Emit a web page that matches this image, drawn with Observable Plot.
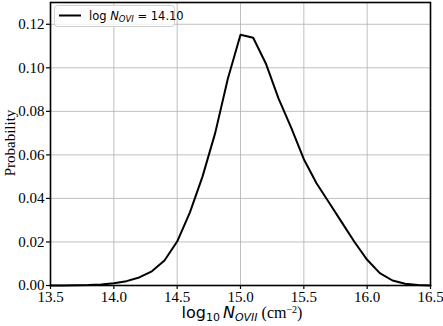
<!DOCTYPE html>
<html>
<head>
<meta charset="utf-8">
<script src="https://cdn.jsdelivr.net/npm/d3@7"></script>
<script src="https://cdn.jsdelivr.net/npm/@observablehq/plot@0.6"></script>
<style>
  html, body { margin: 0; padding: 0; background: #fff; }
  #chart svg { display: block; }
</style>
</head>
<body>
<div id="chart"></div>
<script>
const logN = [13.5,13.6,13.7,13.8,13.9,14.0,14.1,14.2,14.3,14.4,14.5,14.6,14.7,14.8,14.9,15.0,15.1,15.2,15.3,15.4,15.5,15.6,15.7,15.8,15.9,16.0,16.1,16.2,16.3,16.4,16.5];
const prob = [0,0,0.0001,0.0002,0.0005,0.001,0.002,0.0037,0.0065,0.0115,0.0202,0.0335,0.050,0.070,0.095,0.1152,0.1138,0.1020,0.0860,0.0725,0.0580,0.0470,0.0380,0.0290,0.0200,0.0118,0.0057,0.0023,0.0008,0.0002,0];
const xTicks = [13.5,14.0,14.5,15.0,15.5,16.0,16.5];
const yTicks = [0,0.02,0.04,0.06,0.08,0.10,0.12];
const legendLabel = "14.10";

const data = logN.map((x, i) => ({x, y: prob[i]}));

const W = 443, H = 326;
const plot = Plot.plot({
  width: W, height: H,
  marginLeft: 50, marginRight: 13, marginTop: 2, marginBottom: 41,
  style: {fontFamily: "'Liberation Serif', serif", fontSize: "15px", color: "#000", background: "#fff"},
  x: {domain: [13.5, 16.5], ticks: xTicks, tickFormat: d => d.toFixed(1), label: null, tickSize: 4, tickPadding: 2},
  y: {domain: [0, 0.13], ticks: yTicks, tickFormat: d => d.toFixed(2), label: null, tickSize: 4, tickPadding: 2},
  marks: [
    Plot.gridX(xTicks, {stroke: "#b0b0b0", strokeOpacity: 1, strokeWidth: 0.8}),
    Plot.gridY(yTicks, {stroke: "#b0b0b0", strokeOpacity: 1, strokeWidth: 0.8}),
    Plot.axisX(xTicks, {tickFormat: d => d.toFixed(1), tickSize: 4, tickPadding: 2, fontSize: 15, strokeWidth: 1.2}),
    Plot.axisY(yTicks, {tickFormat: d => d.toFixed(2), tickSize: 4, tickPadding: 2, fontSize: 15, strokeWidth: 1.2}),
    Plot.line(data, {x: "x", y: "y", stroke: "#000", strokeWidth: 2}),
    Plot.frame({stroke: "#000", strokeWidth: 1.6})
  ]
});
document.getElementById("chart").appendChild(plot);

const svg = d3.select(plot);
// y label
svg.append("text")
  .attr("transform", "translate(15,143) rotate(-90)")
  .attr("text-anchor", "middle")
  .attr("font-family", "'Liberation Serif', serif")
  .attr("font-size", 15)
  .attr("fill", "#000")
  .text("Probability");

// x label
const xl = svg.append("text")
  .attr("x", 242).attr("y", 318)
  .attr("text-anchor", "middle")
  .attr("font-size", 16)
  .attr("fill", "#000");
xl.append("tspan").attr("font-family", "'DejaVu Sans', sans-serif").text("log");
xl.append("tspan").attr("font-family", "'DejaVu Sans', sans-serif").attr("font-size", 11).attr("dy", 3).text("10");
xl.append("tspan").attr("font-family", "'DejaVu Sans', sans-serif").attr("font-style", "italic").attr("dy", -3).attr("dx", 3).text("N");
xl.append("tspan").attr("font-family", "'DejaVu Sans', sans-serif").attr("font-style", "italic").attr("font-size", 11).attr("dy", 3).text("OVII");
xl.append("tspan").attr("font-family", "'Liberation Serif', serif").attr("dy", -3).text(" (cm");
xl.append("tspan").attr("font-family", "'Liberation Serif', serif").attr("font-size", 10).attr("dy", -5).text("−2");
xl.append("tspan").attr("font-family", "'Liberation Serif', serif").attr("dy", 5).text(")");

// legend
const lg = svg.append("g");
lg.append("rect").attr("x", 54.5).attr("y", 5.5).attr("width", 120).attr("height", 21)
  .attr("rx", 3).attr("fill", "#fff").attr("fill-opacity", 0.8).attr("stroke", "#d0d0d0");
lg.append("line").attr("x1", 59).attr("x2", 81).attr("y1", 15.5).attr("y2", 15.5)
  .attr("stroke", "#000").attr("stroke-width", 2);
const lt = lg.append("text").attr("x", 89).attr("y", 20)
  .attr("text-anchor", "start")
  .attr("font-family", "'DejaVu Sans', sans-serif").attr("font-size", 11.5).attr("fill", "#000");
lt.append("tspan").text("log ");
lt.append("tspan").attr("font-style", "italic").text("N");
lt.append("tspan").attr("font-style", "italic").attr("font-size", 8.5).attr("dy", 2).text("OVI");
lt.append("tspan").attr("dy", -2).text(" = " + legendLabel);
</script>
</body>
</html>
